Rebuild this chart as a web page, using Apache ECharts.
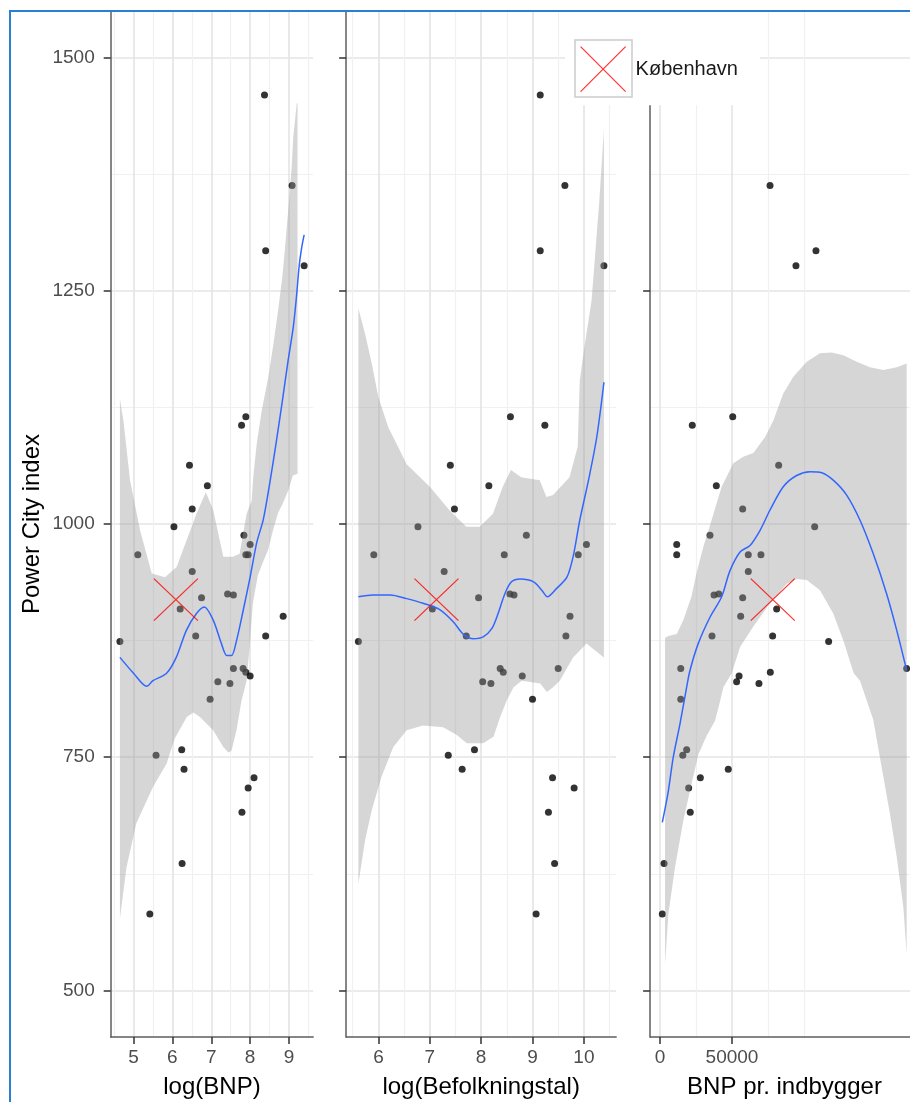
<!DOCTYPE html>
<html>
<head>
<meta charset="utf-8">
<script src="https://cdn.jsdelivr.net/npm/echarts@6/dist/echarts.min.js"></script>
<style>
html,body{margin:0;padding:0;background:#fff;}
#chart{width:910px;height:1102px;}
</style>
</head>
<body>
<div id="chart"></div>
<script>
// ---------------- data ----------------
const pci = [1460,1363,1293,1277,1115,1106,1063,1041,1016,997,988,978,967,967,967,949,925,924,921,909,901,880,880,874,845,845,841,837,831,829,812,758,752,737,728,717,691,636,582];
const logBNP = [8.37,9.08,8.40,9.39,7.89,7.78,6.44,6.90,6.51,6.04,7.84,8.00,7.89,7.95,5.11,6.51,7.42,7.57,6.75,6.20,8.85,8.40,6.60,4.65,7.57,7.82,7.89,8.00,7.17,7.48,6.97,6.24,5.58,6.30,8.10,7.95,7.79,6.25,5.42];
const logPop = [9.15,9.63,9.15,10.39,8.57,9.24,7.40,8.15,7.48,6.77,8.88,10.05,9.89,8.45,5.91,7.28,8.56,8.64,7.95,7.05,9.73,9.65,7.71,5.61,9.50,8.37,8.43,8.80,8.03,8.19,9.00,7.87,7.36,7.63,9.39,9.81,9.31,9.43,9.07];
const bnpPerCapita = [null,76400,108300,94400,50500,22400,82400,39100,57400,107400,34700,11600,11600,70100,61300,61300,40800,37500,57400,81000,56000,36100,78200,117100,14400,171300,76600,54900,53200,68700,14400,18500,15800,47400,28000,19900,21000,2800,1600];

// København marker
const cphName = 'København';
const cphPci = 919;
const cphLogBNP = 6.09;
const cphLogPop = 7.13;
const cphBnpPerCapita = 78300;

// loess fits (blue lines)
const fitBnpX = [4.65,5.0,5.34,5.5,5.85,6.1,6.36,6.62,6.82,7.05,7.26,7.40,7.52,7.65,7.82,8.0,8.17,8.34,8.51,8.68,8.84,8.98,9.11,9.20,9.26,9.33,9.39];
const fitBnpY = [857,840,826,832,840,857,886,904,911,897,872,859,859,875,907,943,980,1005,1045,1090,1135,1176,1211,1247,1276,1297,1310];
const fitPopX = [5.61,5.90,6.23,6.55,6.87,7.20,7.46,7.65,7.85,8.04,8.21,8.33,8.46,8.59,8.76,9.02,9.18,9.29,9.47,9.67,9.79,9.92,10.09,10.25,10.39];
const fitPopY = [922,924,924,920,915,908,895,882,877,879,888,904,925,938,941,938,929,922,931,943,965,1004,1047,1093,1152];
const fitPcX = [1600,5800,9200,13900,18500,20800,26600,34700,42800,48600,55600,62500,69400,76400,85600,94900,104200,112300,120300,129600,138900,148100,157400,164400,171300];
const fitPcY = [680,714,750,786,825,843,872,900,922,950,970,977,993,1015,1040,1052,1056,1055,1047,1031,1004,968,925,886,843];

// confidence bands (upper / lower), cut where they leave 500..1500
const upBnpX = [4.65,4.74,4.91,5.17,5.47,5.81,6.11,6.37,6.62,6.86,7.05,7.31,7.56,7.73,7.91,8.04,8.08,8.17,8.30,8.47,8.60,8.72,8.83,8.90,8.98,9.07,9.11,9.20,9.22];
const upBnpY = [1134,1111,1047,993,947,943,954,983,1011,1034,1015,965,965,968,1011,1025,1050,1086,1122,1158,1193,1229,1265,1297,1336,1383,1415,1451,1451];
const loBnpX = [4.65,4.82,5.07,5.5,5.85,6.06,6.37,6.54,6.71,7.05,7.31,7.44,7.52,7.65,7.78,7.91,8.0,8.07,8.2,8.34,8.46,8.6,8.72,8.84,8.98,9.10,9.22];
const loBnpY = [577,632,679,718,743,770,793,798,793,779,761,755,757,779,811,832,875,915,945,960,972,995,1012,1022,1036,1052,1054];

const upPopX = [5.61,5.74,5.87,6.0,6.19,6.29,6.55,7.0,7.38,7.71,7.97,8.23,8.42,8.58,8.78,9.14,9.27,9.40,9.72,9.88,9.92,10.0,10.15,10.30,10.39];
const upPopY = [1231,1204,1172,1136,1104,1093,1064,1040,1015,997,997,1011,1040,1058,1050,1047,1029,1031,1050,1083,1154,1186,1240,1346,1423];
const loPopX = [5.61,5.74,5.87,6.06,6.29,6.55,6.87,7.26,7.52,7.72,8.04,8.24,8.37,8.50,8.63,8.79,9.15,9.28,9.40,9.53,9.79,10.05,10.39];
const loPopY = [614,661,693,729,761,779,784,782,774,765,765,772,793,811,825,832,829,820,825,832,857,872,857];

const upPcX = [3500,5800,11600,16200,21800,25300,30000,35800,42800,50900,57800,64800,72900,78700,85600,92600,101900,111100,119200,127300,136600,145800,155100,164400,171300];
const upPcY = [878,880,882,897,922,947,975,1004,1040,1065,1072,1076,1093,1111,1140,1158,1174,1183,1184,1181,1174,1168,1165,1168,1172];
const loPcX = [3500,5800,10400,16200,20800,26600,32400,38200,41700,44000,49800,55600,64800,76400,88000,94900,101900,111100,120300,127300,134500,138900,148100,152700,159700,164400,169000,171300];
const loPcY = [528,582,632,682,714,753,773,789,810,825,840,868,890,915,936,941,940,929,904,875,840,832,790,750,689,643,589,539];

// ticks and axis titles
const yTicks = [500,750,1000,1250,1500];
const yMinor = [625,875,1125,1375];
const xTicksBnp = [5,6,7,8,9];
const xMinorBnp = [4.5,5.5,6.5,7.5,8.5,9.5];
const xTicksPop = [6,7,8,9,10];
const xMinorPop = [5.5,6.5,7.5,8.5,9.5,10.5];
const xTicksPc = [0,50000];
const xMinorPc = [25000,75000,100000];
const xTitles = ['log(BNP)','log(Befolkningstal)','BNP pr. indbygger'];
const yTitle = 'Power City index';

// ---------------- layout / styling ----------------
const FONT = '"Liberation Sans", Arial, sans-serif';
const TOP = 11, H = 1026;
const panels = [
  {left:110.7, width:202.5, min:4.413, max:9.623, x:logBNP, ticks:xTicksBnp, minor:xMinorBnp, fx:fitBnpX, fy:fitBnpY, ux:upBnpX, uy:upBnpY, lx:loBnpX, ly:loBnpY, cph:cphLogBNP},
  {left:346.1, width:270.1, min:5.371, max:10.629, x:logPop, ticks:xTicksPop, minor:xMinorPop, fx:fitPopX, fy:fitPopY, ux:upPopX, uy:upPopY, lx:loPopX, ly:loPopY, cph:cphLogPop},
  {left:650.1, width:268.8, min:-6885, max:179785, x:bnpPerCapita, ticks:xTicksPc, minor:xMinorPc, fx:fitPcX, fy:fitPcY, ux:upPcX, uy:upPcY, lx:loPcX, ly:loPcY, cph:cphBnpPerCapita}
];
const Y_MIN = 450, Y_MAX = 1550;
const XPATH = 'path://M0,0L10,10M10,0L0,10';

const grids = [], xAxes = [], yAxes = [], series = [];
panels.forEach((p, i) => {
  grids.push({left:p.left, top:TOP, width:p.width, height:H, outerBoundsMode:'none', containLabel:false});
  xAxes.push({
    type:'value', gridIndex:i, min:p.min, max:p.max, position:'bottom',
    axisLine:{show:true, onZero:false, lineStyle:{color:'#5e5e5e', width:1.5}},
    axisTick:{show:true, customValues:p.ticks, length:7, lineStyle:{color:'#333333', width:1.5}},
    axisLabel:{show:true, customValues:p.ticks, formatter:v=>String(v), fontSize:19, color:'#4d4d4d', fontFamily:FONT, margin:11},
    splitLine:{show:true, customValues:p.ticks, lineStyle:{color:'#e4e4e4', width:1.6}},
    minorTick:{show:false}, minorSplitLine:{show:false},
    name:xTitles[i], nameLocation:'middle', nameGap:38,
    nameTextStyle:{fontSize:24, color:'#000', fontFamily:FONT}
  });
  yAxes.push({
    type:'value', gridIndex:i, min:Y_MIN, max:Y_MAX, position:'left',
    axisLine:{show:true, onZero:false, lineStyle:{color:'#5e5e5e', width:1.5}},
    axisTick:{show:true, customValues:yTicks, length:7, lineStyle:{color:'#333333', width:1.5}},
    axisLabel:{show:i===0, customValues:yTicks, formatter:v=>String(v), fontSize:19, color:'#4d4d4d', fontFamily:FONT, margin:16},
    splitLine:{show:true, customValues:yTicks, lineStyle:{color:'#e4e4e4', width:1.6}},
    minorTick:{show:false}, minorSplitLine:{show:false},
    name:i===0 ? yTitle : '', nameLocation:'middle', nameGap:66, nameRotate:90,
    nameTextStyle:{fontSize:24, color:'#000', fontFamily:FONT}
  });
});
// minor grid lines via hidden secondary axes
panels.forEach((p, i) => {
  xAxes.push({
    type:'value', gridIndex:i, min:p.min, max:p.max, position:'top',
    axisLine:{show:false}, axisLabel:{show:false},
    axisTick:{show:false, customValues:p.minor},
    splitLine:{show:true, customValues:p.minor, lineStyle:{color:'#f0f0f0', width:1.2}}
  });
  yAxes.push({
    type:'value', gridIndex:i, min:Y_MIN, max:Y_MAX, position:'right',
    axisLine:{show:false}, axisLabel:{show:false},
    axisTick:{show:false, customValues:yMinor},
    splitLine:{show:true, customValues:yMinor, lineStyle:{color:'#f0f0f0', width:1.2}}
  });
});

panels.forEach((p, i) => {
  const pts = [];
  pci.forEach((y, k) => { if (p.x[k] != null) pts.push([p.x[k], y]); });
  series.push({
    type:'scatter', xAxisIndex:i, yAxisIndex:i, data:pts, symbol:'circle', symbolSize:7,
    itemStyle:{color:'#000000'}, z:3, silent:true
  });
  series.push({
    type:'custom', xAxisIndex:i, yAxisIndex:i, z:4, silent:true,
    data:[[p.ux[0], p.uy[0]]],
    renderItem:(params, api) => {
      const poly = [];
      for (let k = 0; k < p.ux.length; k++) poly.push(api.coord([p.ux[k], p.uy[k]]));
      for (let k = p.lx.length - 1; k >= 0; k--) poly.push(api.coord([p.lx[k], p.ly[k]]));
      return {type:'polygon', shape:{points:poly}, style:{fill:'rgba(153,153,153,0.4)'}};
    }
  });
  series.push({
    type:'line', xAxisIndex:i, yAxisIndex:i, data:p.fx.map((x, k) => [x, p.fy[k]]),
    showSymbol:false, symbol:'none', smooth:0.3, lineStyle:{color:'#3366ff', width:1.5}, z:5, silent:true
  });
  series.push({
    type:'scatter', name:cphName, xAxisIndex:i, yAxisIndex:i, data:[[p.cph, cphPci]],
    symbol:XPATH, symbolSize:[44,42],
    itemStyle:{color:'rgba(0,0,0,0)', borderColor:'#ff0000', borderWidth:1.2}, z:6, silent:true
  });
});

const option = {
  animation:false,
  backgroundColor:'#ffffff',
  grid:grids, xAxis:xAxes, yAxis:yAxes, series:series,
  legend:{
    data:[cphName], left:565, top:12, orient:'horizontal', selectedMode:false,
    padding:[34,22,13,15], backgroundColor:'#ffffff',
    itemWidth:47, itemHeight:45, itemGap:0,
    itemStyle:{color:'rgba(0,0,0,0)', borderColor:'#ff0000', borderWidth:1.2},
    textStyle:{fontSize:20, color:'#1a1a1a', fontFamily:FONT, padding:[4,0,0,4]}
  },
  graphic:[
    {type:'rect', shape:{x:575, y:40, width:57, height:57}, style:{fill:'none', stroke:'#cccccc', lineWidth:1.5}, z:100, silent:true},
    {type:'line', shape:{x1:9, y1:11, x2:910, y2:11}, style:{stroke:'#2a7fd4', lineWidth:2}, z:200, silent:true},
    {type:'line', shape:{x1:10, y1:11, x2:10, y2:1102}, style:{stroke:'#2a7fd4', lineWidth:2}, z:200, silent:true}
  ]
};
const chart = echarts.init(document.getElementById('chart'), null, {renderer:'canvas'});
chart.setOption(option);
</script>
</body>
</html>
